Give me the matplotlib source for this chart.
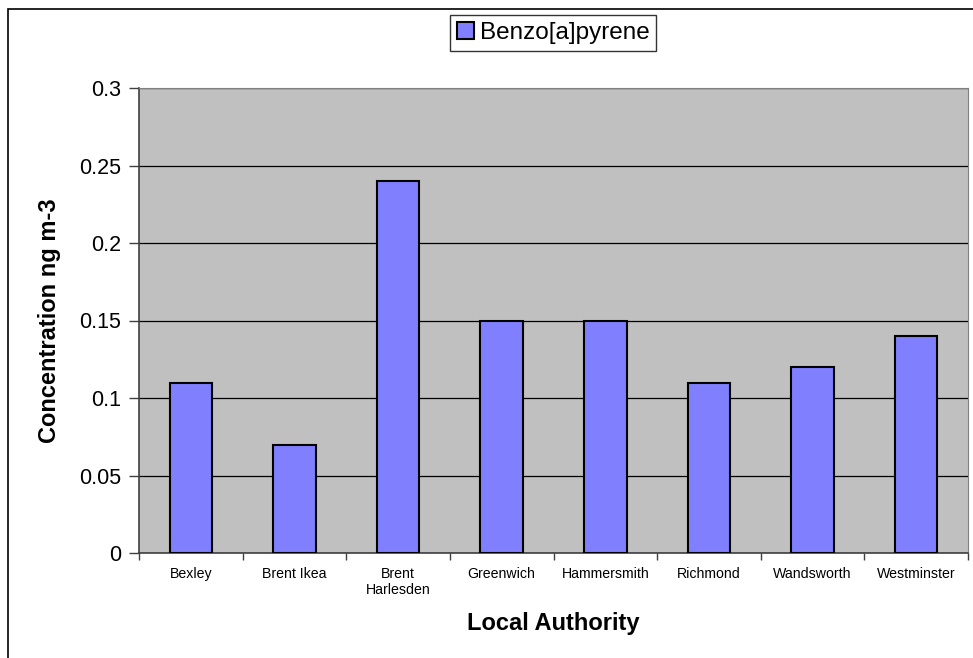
import matplotlib
matplotlib.use("Agg")
import matplotlib.pyplot as plt
import numpy as np
from matplotlib.patches import Rectangle

plt.rcParams['font.family'] = ['Liberation Sans', 'DejaVu Sans']

sites = ["Bexley", "Brent Ikea", "Brent\nHarlesden", "Greenwich", "Hammersmith",
         "Richmond", "Wandsworth", "Westminster"]
bap = [0.11, 0.07, 0.24, 0.15, 0.15, 0.11, 0.12, 0.14]
yticks = [0, 0.05, 0.1, 0.15, 0.2, 0.25, 0.3]
ytick_labels = ["0", "0.05", "0.1", "0.15", "0.2", "0.25", "0.3"]

W, H = 973, 658
fig = plt.figure(figsize=(W / 100, H / 100), dpi=100)
ax = fig.add_axes([139 / W, 1 - 553 / H, (968 - 139) / W, (553 - 88) / H])

# outer chart frame (only left/top edges visible in the picture)
fig.patches.append(Rectangle((8 / W, -0.1), 1.2, 1 - 9 / H + 0.1, transform=fig.transFigure,
                             fill=False, edgecolor='black', linewidth=1.2))

x = np.arange(len(sites))
ax.set_facecolor('#C0C0C0')
ax.bar(x, bap, width=0.41, color='#8080FF', edgecolor='black', linewidth=1.5,
       label='Benzo[a]pyrene', zorder=3)

ax.set_xlim(-0.5, len(sites) - 0.5)
ax.set_ylim(0, 0.3)
ax.set_yticks(yticks)
ax.set_yticklabels(ytick_labels, fontsize=15.5)
ax.yaxis.grid(True, color='black', linewidth=0.9, zorder=1)
ax.set_axisbelow(True)

ax.set_xticks(x)
ax.set_xticklabels(sites, fontsize=10.2, linespacing=1.2)
ax.set_xticks(np.arange(len(sites) + 1) - 0.5, minor=True)
ax.tick_params(axis='x', which='major', length=0, pad=10)
ax.tick_params(axis='x', which='minor', length=5, color='#404040', width=1)
ax.tick_params(axis='y', length=7, color='#404040', width=1, pad=6)

for s in ['top', 'right']:
    ax.spines[s].set_color('#808080')
for s in ['left', 'bottom']:
    ax.spines[s].set_color('#404040')
    ax.spines[s].set_linewidth(1.2)

ax.set_xlabel('Local Authority', fontsize=17, fontweight='bold', labelpad=11)
ax.set_ylabel('Concentration ng m-3', fontsize=17, fontweight='bold', labelpad=13)

leg = fig.legend(loc='center', bbox_to_anchor=(553 / W, 1 - 33 / H), fontsize=17.5,
                 frameon=True, fancybox=False, edgecolor='black', handlelength=0.7,
                 handleheight=0.7, handletextpad=0.25, borderpad=0.28, borderaxespad=0)
leg.get_frame().set_linewidth(1.0)

fig.savefig('out.png', dpi=100)
